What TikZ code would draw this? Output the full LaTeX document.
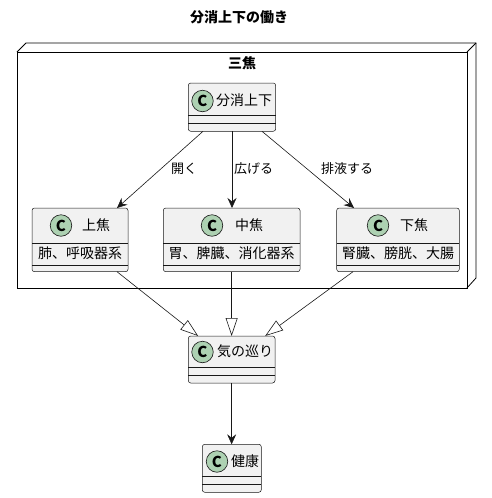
\documentclass[tikz,border=0pt]{standalone}
\usepackage{fontspec}
\setmainfont{Noto Sans CJK JP}
\usetikzlibrary{arrows.meta,calc}
\definecolor{boxfill}{HTML}{F1F1F1}
\definecolor{boxline}{HTML}{181818}
\definecolor{circfill}{HTML}{ADD1B2}
\begin{document}
\begin{tikzpicture}[x=1pt,y=-1pt,
  cls/.style={draw=boxline, fill=boxfill, line width=0.5pt, rounded corners=2.5pt, inner sep=0pt, outer sep=0pt, anchor=north west},
  sepline/.style={draw=boxline, line width=0.5pt},
  cbadge/.style={circle, draw=boxline, fill=circfill, line width=0.6pt, minimum size=21.5pt, inner sep=0pt, font=\fontsize{15}{15}\selectfont\bfseries},
  ctitle/.style={anchor=west, inner sep=0pt, font=\fontsize{14}{16}\selectfont},
  cattr/.style={inner sep=0pt, font=\fontsize{14}{16}\selectfont},
  elabel/.style={inner sep=0pt, anchor=west, font=\fontsize{13}{15}\selectfont},
  btitle/.style={inner sep=0pt, font=\fontsize{14}{16}\selectfont\bfseries},
  pkgbox/.style={draw=black, line width=0.8pt, inner sep=0pt, outer sep=0pt, anchor=north west},
  assoc/.style={draw=boxline, line width=0.6pt, -{Stealth[length=10pt,width=9pt,inset=3.5pt]}},
  gen/.style={draw=boxline, line width=0.6pt, -{Triangle[open,length=18pt,width=12pt,fill=white]}}
]
\fill[white] (0,0) rectangle (492,498);
\useasboundingbox (0,0) rectangle (492,498);

% title
\node[btitle] (title) at (239,17) {分消上下の働き};

% package 三焦
\node[pkgbox, minimum width=450pt, minimum height=236pt] (pkg) at (17,52) {};
\draw[draw=black, line width=0.8pt] (pkg.north west) -- ++(9,-9) -- ($(pkg.north east)+(9,-9)$) -- ($(pkg.south east)+(9,-10)$) -- (pkg.south east);
\draw[draw=black, line width=0.8pt] (pkg.north east) -- ++(9,-9);
\node[btitle] (pkglabel) at (242,63) {三焦};

% 分消上下
\node[cls, minimum width=87.4pt, minimum height=48.3pt] (fsx) at (188.3,83) {};
\draw[sepline] (188.3,115.7) -- (275.7,115.7);
\draw[sepline] (188.3,123.5) -- (275.7,123.5);
\node[cbadge] (fsxc) at (202.5,101) {C};
\node[ctitle] (fsxt) at (216,100) {分消上下};

% 上焦
\node[cls, minimum width=96pt, minimum height=63.7pt] (sj) at (32,208) {};
\draw[sepline] (32,243.3) -- (128,243.3);
\draw[sepline] (32,265) -- (128,265);
\node[cbadge] (sjc) at (61,225.5) {C};
\node[ctitle] (sjt) at (82,225) {上焦};
\node[cattr] (sja) at (80,253.5) {肺、呼吸器系};

% 中焦
\node[cls, minimum width=136.7pt, minimum height=63.7pt] (zj) at (163.3,208) {};
\draw[sepline] (163.3,243.3) -- (300,243.3);
\draw[sepline] (163.3,265) -- (300,265);
\node[cbadge] (zjc) at (212,225.5) {C};
\node[ctitle] (zjt) at (235,225) {中焦};
\node[cattr] (zja) at (231.7,253.5) {胃、脾臓、消化器系};

% 下焦
\node[cls, minimum width=122.6pt, minimum height=63.7pt] (xj) at (336.7,208) {};
\draw[sepline] (336.7,243.3) -- (459.3,243.3);
\draw[sepline] (336.7,265) -- (459.3,265);
\node[cbadge] (xjc) at (378,225.5) {C};
\node[ctitle] (xjt) at (400,225) {下焦};
\node[cattr] (xja) at (398,253.5) {腎臓、膀胱、大腸};

% 気の巡り
\node[cls, minimum width=86.7pt, minimum height=47pt] (qi) at (188.3,336) {};
\draw[sepline] (188.3,367) -- (275,367);
\draw[sepline] (188.3,375.7) -- (275,375.7);
\node[cbadge] (qic) at (202.5,352) {C};
\node[ctitle] (qit) at (217,351.5) {気の巡り};

% 健康
\node[cls, minimum width=59pt, minimum height=48pt] (jk) at (202.3,444.3) {};
\draw[sepline] (202.3,476.7) -- (261.3,476.7);
\draw[sepline] (202.3,484.3) -- (261.3,484.3);
\node[cbadge] (jkc) at (217,461.5) {C};
\node[ctitle] (jkt) at (231,461) {健康};

% associations
\draw[assoc] ($(fsx.south)+(-29,0)$) -- ($(sj.north)+(37,0)$);
\draw[assoc] (fsx.south) -- (fsx.south |- zj.north);
\draw[assoc] ($(fsx.south)+(30,0)$) -- ($(xj.north)+(-44,0)$);
\node[elabel] (l1) at (171,169) {開く};
\node[elabel] (l2) at (234,169) {広げる};
\node[elabel] (l3) at (321,169) {排液する};

% generalizations
\draw[gen] ($(sj.south)+(37,0)$) -- ($(qi.north)+(-33.5,0)$);
\draw[gen] (zj.south) -- (zj.south |- qi.north);
\draw[gen] ($(xj.south)+(-45,0)$) -- ($(qi.north)+(33.5,0)$);

% to health
\draw[assoc] (qi.south) -- (qi.south |- jk.north);
\end{tikzpicture}
\end{document}
